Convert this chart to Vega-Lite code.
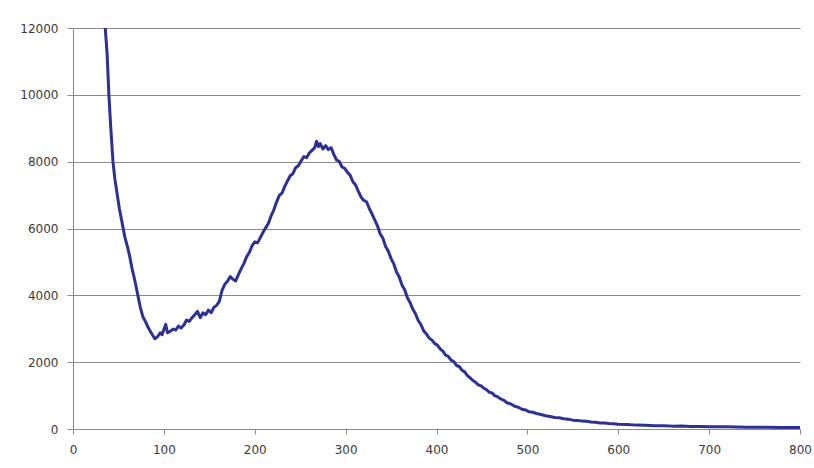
{
  "$schema": "https://vega.github.io/schema/vega-lite/v6.json",
  "width": 727,
  "height": 401,
  "autosize": {"type": "none"},
  "padding": {"left": 73, "top": 28, "right": 14, "bottom": 39},
  "background": "white",
  "config": {
    "view": {"stroke": null},
    "axis": {
      "labelFont": "DejaVu Sans",
      "labelFontSize": 12,
      "labelColor": "#3a3a3a",
      "domainColor": "#8a8a8a",
      "tickColor": "#8a8a8a",
      "gridColor": "#8a8a8a",
      "gridOpacity": 1,
      "domainWidth": 1,
      "tickWidth": 1,
      "gridWidth": 1,
      "title": null
    }
  },
  "data": {"values": [
    {"x": 35.5, "y": 12000}, {"x": 36, "y": 11800}, {"x": 37.5, "y": 11240}, {"x": 39.5, "y": 10000},
    {"x": 41.5, "y": 9050}, {"x": 44, "y": 8000}, {"x": 46, "y": 7500}, {"x": 48.5, "y": 7050},
    {"x": 51, "y": 6600}, {"x": 53.5, "y": 6250}, {"x": 57, "y": 5750}, {"x": 60, "y": 5450},
    {"x": 62.5, "y": 5150}, {"x": 65, "y": 4800}, {"x": 68, "y": 4450}, {"x": 71, "y": 4050},
    {"x": 74, "y": 3650}, {"x": 77, "y": 3350}, {"x": 80, "y": 3200}, {"x": 83, "y": 3020},
    {"x": 86, "y": 2880}, {"x": 88, "y": 2790}, {"x": 90, "y": 2700}, {"x": 93, "y": 2760},
    {"x": 96, "y": 2880}, {"x": 98, "y": 2820}, {"x": 100, "y": 2980}, {"x": 102, "y": 3130},
    {"x": 104, "y": 2880}, {"x": 107, "y": 2920}, {"x": 110, "y": 2990}, {"x": 113, "y": 2960},
    {"x": 116, "y": 3080}, {"x": 119, "y": 3020}, {"x": 122, "y": 3110}, {"x": 125, "y": 3260},
    {"x": 128, "y": 3220}, {"x": 131, "y": 3330}, {"x": 134, "y": 3420}, {"x": 137, "y": 3520},
    {"x": 140, "y": 3330}, {"x": 143, "y": 3480}, {"x": 146, "y": 3420}, {"x": 149, "y": 3560},
    {"x": 152, "y": 3480}, {"x": 155, "y": 3640}, {"x": 158, "y": 3700}, {"x": 161, "y": 3820},
    {"x": 164, "y": 4150}, {"x": 167, "y": 4330}, {"x": 170, "y": 4420}, {"x": 173, "y": 4560},
    {"x": 176, "y": 4480}, {"x": 179, "y": 4430}, {"x": 182, "y": 4620}, {"x": 185, "y": 4790},
    {"x": 188, "y": 4950}, {"x": 191, "y": 5150}, {"x": 194, "y": 5280}, {"x": 197, "y": 5480},
    {"x": 200, "y": 5600}, {"x": 203, "y": 5570}, {"x": 206, "y": 5720}, {"x": 209, "y": 5880},
    {"x": 212, "y": 6020}, {"x": 215, "y": 6150}, {"x": 218, "y": 6380}, {"x": 221, "y": 6560},
    {"x": 224, "y": 6790}, {"x": 227, "y": 6990}, {"x": 230, "y": 7060}, {"x": 233, "y": 7260},
    {"x": 236, "y": 7420}, {"x": 239, "y": 7580}, {"x": 242, "y": 7640}, {"x": 245, "y": 7820},
    {"x": 248, "y": 7880}, {"x": 251, "y": 8020}, {"x": 254, "y": 8150}, {"x": 257, "y": 8120},
    {"x": 260, "y": 8260}, {"x": 263, "y": 8340}, {"x": 266, "y": 8420}, {"x": 268, "y": 8610},
    {"x": 270, "y": 8450}, {"x": 272, "y": 8540}, {"x": 275, "y": 8380}, {"x": 278, "y": 8480},
    {"x": 281, "y": 8360}, {"x": 284, "y": 8420}, {"x": 287, "y": 8220}, {"x": 290, "y": 8050},
    {"x": 293, "y": 8010}, {"x": 296, "y": 7840}, {"x": 299, "y": 7800}, {"x": 302, "y": 7680},
    {"x": 305, "y": 7590}, {"x": 308, "y": 7400}, {"x": 311, "y": 7300}, {"x": 314, "y": 7110},
    {"x": 317, "y": 6940}, {"x": 320, "y": 6840}, {"x": 323, "y": 6800}, {"x": 326, "y": 6600},
    {"x": 329, "y": 6440}, {"x": 332, "y": 6260}, {"x": 335, "y": 6080}, {"x": 338, "y": 5840},
    {"x": 341, "y": 5710}, {"x": 344, "y": 5460}, {"x": 347, "y": 5320}, {"x": 350, "y": 5100},
    {"x": 353, "y": 4940}, {"x": 356, "y": 4700}, {"x": 359, "y": 4550}, {"x": 362, "y": 4310},
    {"x": 365, "y": 4170}, {"x": 368, "y": 3930}, {"x": 371, "y": 3780}, {"x": 374, "y": 3580},
    {"x": 377, "y": 3440}, {"x": 380, "y": 3240}, {"x": 383, "y": 3120}, {"x": 386, "y": 2930},
    {"x": 389, "y": 2840}, {"x": 392, "y": 2720}, {"x": 395, "y": 2660}, {"x": 398, "y": 2560},
    {"x": 401, "y": 2510}, {"x": 404, "y": 2400}, {"x": 407, "y": 2330}, {"x": 410, "y": 2210},
    {"x": 413, "y": 2170}, {"x": 416, "y": 2060}, {"x": 419, "y": 2020}, {"x": 422, "y": 1900},
    {"x": 425, "y": 1870}, {"x": 428, "y": 1760}, {"x": 431, "y": 1710}, {"x": 434, "y": 1600},
    {"x": 437, "y": 1530}, {"x": 440, "y": 1450}, {"x": 443, "y": 1400}, {"x": 446, "y": 1320},
    {"x": 449, "y": 1290}, {"x": 452, "y": 1220}, {"x": 455, "y": 1180}, {"x": 458, "y": 1100},
    {"x": 461, "y": 1080}, {"x": 464, "y": 1000}, {"x": 467, "y": 970}, {"x": 470, "y": 910},
    {"x": 474, "y": 860}, {"x": 478, "y": 780}, {"x": 482, "y": 750}, {"x": 486, "y": 680},
    {"x": 490, "y": 650}, {"x": 494, "y": 590}, {"x": 498, "y": 570}, {"x": 502, "y": 515},
    {"x": 506, "y": 500}, {"x": 510, "y": 465}, {"x": 515, "y": 435}, {"x": 520, "y": 395},
    {"x": 525, "y": 375}, {"x": 530, "y": 345}, {"x": 535, "y": 335}, {"x": 540, "y": 305},
    {"x": 545, "y": 295}, {"x": 550, "y": 265}, {"x": 555, "y": 258}, {"x": 560, "y": 236},
    {"x": 565, "y": 230}, {"x": 570, "y": 212}, {"x": 575, "y": 202}, {"x": 580, "y": 182},
    {"x": 585, "y": 177}, {"x": 590, "y": 162}, {"x": 595, "y": 157}, {"x": 600, "y": 143},
    {"x": 610, "y": 132}, {"x": 620, "y": 116}, {"x": 630, "y": 112}, {"x": 640, "y": 98},
    {"x": 650, "y": 97}, {"x": 660, "y": 86}, {"x": 670, "y": 87}, {"x": 680, "y": 78},
    {"x": 690, "y": 77}, {"x": 700, "y": 68}, {"x": 720, "y": 66}, {"x": 740, "y": 56},
    {"x": 760, "y": 54}, {"x": 780, "y": 46}, {"x": 800, "y": 42}
  ]},
  "mark": {"type": "line", "color": "#2e3192", "strokeWidth": 3, "clip": true, "strokeJoin": "round"},
  "encoding": {
    "x": {
      "field": "x", "type": "quantitative",
      "scale": {"domain": [0, 800], "nice": false, "zero": false},
      "axis": {"values": [0, 100, 200, 300, 400, 500, 600, 700, 800], "grid": false, "tickSize": 5, "labelPadding": 10, "labelFlush": false}
    },
    "y": {
      "field": "y", "type": "quantitative",
      "scale": {"domain": [0, 12000], "nice": false},
      "axis": {"values": [0, 2000, 4000, 6000, 8000, 10000, 12000], "grid": true, "tickSize": 6, "labelPadding": 9, "labelFlush": false, "format": "d"}
    }
  }
}
